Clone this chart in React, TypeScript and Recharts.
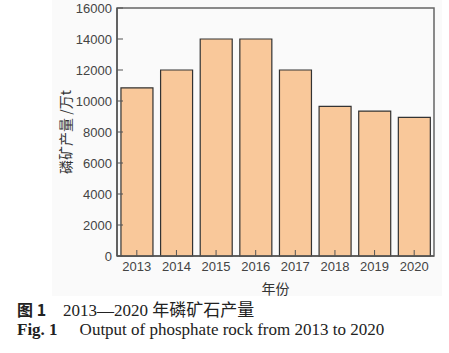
import React from 'react';
import { BarChart, Bar, XAxis, YAxis, ReferenceArea, Label } from 'recharts';

const years = ['2013', '2014', '2015', '2016', '2017', '2018', '2019', '2020'];
const output = [10850, 12000, 14000, 14000, 12000, 9650, 9350, 8950];
const yTicks = [0, 2000, 4000, 6000, 8000, 10000, 12000, 14000, 16000];

const data = years.map((year, i) => ({ year, value: output[i] }));

const tickFont = { fontFamily: '"Liberation Sans", sans-serif', fontSize: 13, fill: '#444' };
const cjkFont = '"Liberation Serif", "Noto Sans CJK SC", serif';

const YLabel = (props: any) => {
  const { viewBox } = props;
  const cx = 65;
  const cy = viewBox.y + viewBox.height / 2;
  return (
    <text
      x={cx}
      y={cy}
      transform={`rotate(-90 ${cx} ${cy})`}
      textAnchor="middle"
      dominantBaseline="central"
      fontFamily='"Noto Sans CJK SC", sans-serif'
      fontSize={14}
      fill="#333"
    >
      磷矿产量 /万t
    </text>
  );
};

const XLabel = (props: any) => {
  const { viewBox } = props;
  return (
    <text
      x={viewBox.x + viewBox.width / 2}
      y={viewBox.y + 32}
      textAnchor="middle"
      dominantBaseline="central"
      fontFamily='"Noto Sans CJK SC", sans-serif'
      fontSize={14}
      fill="#333"
    >
      年份
    </text>
  );
};

const App: React.FC = () => {
  return (
    <div
      style={{
        position: 'absolute',
        left: 0,
        top: 0,
        width: 449,
        height: 353,
        background: '#fff',
        overflow: 'hidden',
      }}
    >
      <div
        style={{
          position: 'absolute',
          left: 52,
          top: 0,
          width: 390,
          height: 296,
          background: '#fafafa',
        }}
      />
      <div style={{ position: 'absolute', left: 0, top: 0 }}>
        <BarChart
          width={449}
          height={300}
          data={data}
          margin={{ top: 8, right: 15, bottom: 0, left: 0 }}
          barCategoryGap="10%"
        >
          <XAxis
            dataKey="year"
            height={44}
            tickSize={-6}
            tickMargin={12}
            tick={tickFont}
            stroke="#555"
            axisLine={{ stroke: '#555', strokeWidth: 1.5 }}
            tickLine={{ stroke: '#555' }}
          >
            <Label content={XLabel} />
          </XAxis>
          <YAxis
            width={117}
            domain={[0, 16000]}
            ticks={yTicks}
            interval={0}
            tickSize={-6}
            tickMargin={11}
            tick={tickFont}
            stroke="#555"
            axisLine={{ stroke: '#555', strokeWidth: 1.5 }}
            tickLine={{ stroke: '#555' }}
          >
            <Label content={YLabel} />
          </YAxis>
          <Bar
            dataKey="value"
            fill="#F9C89A"
            stroke="#333"
            strokeWidth={1.2}
            isAnimationActive={false}
          />
          <ReferenceArea
            y1={0}
            y2={16000}
            fill="none"
            stroke="#666"
            strokeWidth={1.5}
            ifOverflow="visible"
          />
        </BarChart>
      </div>
      <div
        style={{
          position: 'absolute',
          left: 17,
          top: 300,
          fontFamily: cjkFont,
          fontSize: 17,
          color: '#222',
          whiteSpace: 'nowrap',
          lineHeight: '19px',
        }}
      >
        <div>
          <b style={{ fontFamily: '"Noto Sans CJK SC", sans-serif', fontSize: 16 }}>图 1</b>
          <span style={{ marginLeft: 17 }}>2013—2020 年磷矿石产量</span>
        </div>
        <div>
          <b>Fig. 1</b>
          <span style={{ marginLeft: 22 }}>Output of phosphate rock from 2013 to 2020</span>
        </div>
      </div>
    </div>
  );
};

export default App;
